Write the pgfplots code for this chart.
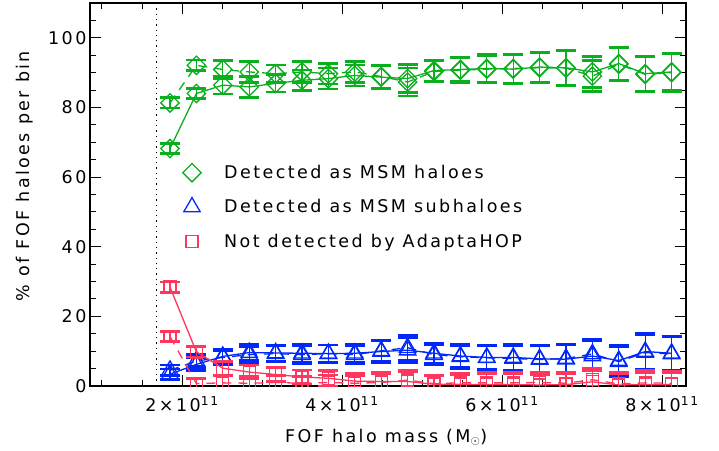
\documentclass[border=0pt]{standalone}
\usepackage{fontspec}
\setmainfont[LetterSpace=14]{DejaVu Sans}
\usepackage{pgfplots}
\usepackage{pgfplotstable}
\pgfplotsset{compat=1.18}
\definecolor{cG}{RGB}{10,175,30}
\definecolor{cB}{RGB}{0,40,250}
\definecolor{cR}{RGB}{255,55,95}

\pgfplotstableread{
x g eg b eb r er
1.85 68.2 1.5 3.4 1.5 28.4 1.5
2.18 84.0 1.5 6.2 1.8 9.8 1.5
2.51 86.4 2.5 8.5 2.0 5.1 2.0
2.84 85.9 3.0 9.6 2.3 4.0 2.0
3.17 86.9 2.5 9.5 2.3 3.3 2.0
3.50 87.8 3.0 9.4 2.5 2.6 2.0
3.83 88.3 3.0 9.3 2.5 2.2 2.2
4.16 89.2 3.0 9.4 2.7 1.4 2.3
4.49 88.7 3.3 9.9 3.1 1.3 2.5
4.82 88.3 4.0 10.3 3.6 1.3 2.8
5.15 90.6 3.0 9.4 3.0 0.5 2.5
5.48 90.9 3.5 8.6 3.3 0.5 2.8
5.81 91.2 4.0 8.2 3.5 0.4 3.0
6.14 91.0 4.2 8.2 3.7 0.4 3.0
6.47 91.6 4.3 7.8 4.0 0.3 3.0
6.80 91.4 5.0 7.7 4.2 0.4 3.2
7.13 90.2 4.5 8.6 4.3 1.2 3.3
7.46 92.6 4.8 7.3 4.3 0.3 3.2
7.79 89.7 5.0 9.9 5.2 0.4 3.5
8.12 90.2 5.4 9.4 5.0 0.4 3.5
}\solidtab

\pgfplotstableread{
x g eg b eb r er
1.85 81.3 1.5 4.5 1.5 14.2 1.5
2.18 92.1 1.5 7.2 1.8 0.7 1.5
2.51 90.9 2.5 8.2 2.0 0.9 2.0
2.84 90.2 3.0 9.0 2.3 0.8 2.0
3.17 89.7 2.5 9.3 2.3 1.0 2.0
3.50 90.2 3.0 9.0 2.5 0.8 2.0
3.83 89.7 3.0 9.3 2.5 1.0 2.2
4.16 90.2 3.0 9.0 2.7 0.8 2.3
4.49 88.9 3.3 10.1 3.1 1.0 2.5
4.82 87.3 4.0 11.0 3.6 1.7 2.8
5.15 90.3 3.0 9.0 3.0 0.7 2.5
5.48 90.7 3.5 8.4 3.3 0.9 2.8
5.81 91.0 4.0 8.1 3.5 0.9 3.0
6.14 91.2 4.2 7.9 3.7 0.9 3.0
6.47 91.4 4.3 7.6 4.0 1.0 3.0
6.80 91.3 5.0 7.9 4.2 0.8 3.2
7.13 89.0 4.5 9.2 4.3 1.8 3.3
7.46 92.4 4.8 7.0 4.3 0.6 3.2
7.79 89.5 5.0 9.6 5.2 0.9 3.5
8.12 90.0 5.4 9.2 5.0 0.8 3.5
}\dashtab

\pgfplotsset{
  gstyle/.style={cG, line width=1.3pt, mark=square, mark size=6.5pt,
    mark options={rotate=45, solid, line width=1.3pt}},
  bstyle/.style={cB, line width=1.3pt, mark=triangle, mark size=9.5pt,
    mark options={solid, line width=1.3pt}},
  rstyle/.style={cR, line width=1.3pt, mark=square, mark size=6pt,
    mark options={solid, line width=1.3pt}},
  ebar/.style={error bars/.cd, y dir=both, y explicit,
    error bar style={line width=1.3pt, solid},
    error mark options={rotate=90, mark size=10pt, line width=2.6pt, solid}},
  dsh/.style={dash pattern=on 9pt off 7pt},
}

\begin{document}
\begin{tikzpicture}
\path[use as bounding box] (-90pt,-64pt) rectangle (629pt,386pt);
\begin{axis}[
  at={(0pt,0pt)}, anchor=south west,
  scale only axis, width=596pt, height=383pt,
  xmin=0.85, xmax=8.3, ymin=0, ymax=110,
  xtick={2,4,6,8},
  xticklabels={2×10\textsuperscript{11},4×10\textsuperscript{11},6×10\textsuperscript{11},8×10\textsuperscript{11}},
  minor xtick={1,1.5,2.5,3,3.5,4.5,5,5.5,6.5,7,7.5},
  ytick={0,20,40,60,80,100},
  minor ytick={5,10,15,25,30,35,45,50,55,65,70,75,85,90,95,105},
  tick align=inside, major tick length=11pt, minor tick length=6pt,
  tick style={black, line width=1pt},
  axis line style={line width=1.3pt},
  /pgf/number format/assume math mode=true,
  tick label style={font=\fontsize{17.5}{21}\selectfont},
  xticklabel style={yshift=-7pt},
  label style={font=\fontsize{17.5}{21}\selectfont},
  xlabel={FOF halo mass (M$_\odot$)},
  xlabel style={at={(axis description cs:0.497,0)}, anchor=base, yshift=-56pt},
  ylabel={\% of FOF haloes per bin},
  ylabel style={at={(axis description cs:0,0.548)}, anchor=center, yshift=65pt},
  clip marker paths=true,
  legend style={at={(axis cs:1.97,64.6)}, anchor=north west, draw=none, fill=none,
    font=\fontsize{17.5}{21}\selectfont, row sep=15.5pt},
  legend cell align=left,
]
\addplot[forget plot, black, line width=1.3pt, dash pattern=on 1.3pt off 4pt] coordinates {(1.684,0) (1.684,110)};

\addplot[forget plot, gstyle, ebar] table[x=x, y=g, y error=eg] {\solidtab};
\addplot[forget plot, gstyle, dsh, ebar] table[x=x, y=g, y error=eg] {\dashtab};
\addplot[forget plot, bstyle, ebar] table[x=x, y=b, y error=eb] {\solidtab};
\addplot[forget plot, bstyle, dsh, ebar] table[x=x, y=b, y error=eb] {\dashtab};
\addplot[forget plot, rstyle, ebar] table[x=x, y=r, y error=er] {\solidtab};
\addplot[forget plot, rstyle, dsh, ebar] table[x=x, y=r, y error=er] {\dashtab};

\addlegendimage{only marks, cG, mark=square, mark size=6.5pt, mark options={rotate=45, line width=1.3pt}}
\addlegendentry{\hspace*{21pt}Detected as MSM haloes}
\addlegendimage{only marks, cB, mark=triangle, mark size=9.5pt, mark options={line width=1.3pt}}
\addlegendentry{\hspace*{21pt}Detected as MSM subhaloes}
\addlegendimage{only marks, cR, mark=square, mark size=6pt, mark options={line width=1.3pt}}
\addlegendentry{\hspace*{21pt}Not detected by AdaptaHOP}
\end{axis}
\end{tikzpicture}
\end{document}
